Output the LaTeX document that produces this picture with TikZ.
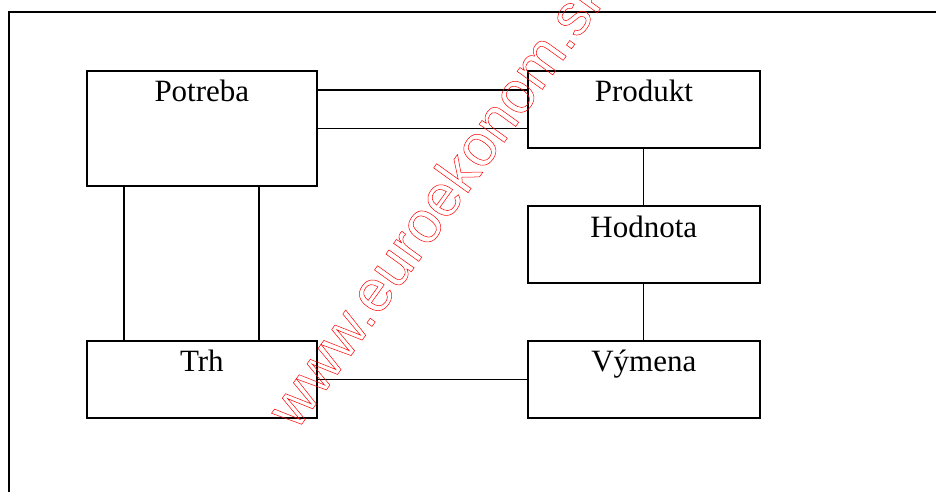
\documentclass[tikz,border=0pt]{standalone}
\usepackage{fontspec}
\setmainfont{Liberation Serif}
\newfontfamily\wmfont{Liberation Sans}
\usetikzlibrary{calc}
\begin{document}
\begin{tikzpicture}[x=1pt,y=-1pt,
  box/.style={draw, line width=1.7pt, inner sep=0pt, anchor=north west, minimum height=77pt},
  lbl/.style={anchor=base, inner sep=0pt, font=\fontsize{31}{34}\selectfont},
  conn/.style={line width=1.2pt},
  frame/.style={line width=1.6pt},
  wm/.style={inner sep=0pt, text=red, font=\wmfont\fontsize{58.6}{62}\selectfont}]
\useasboundingbox (0,0) rectangle (936,491);
% outer frame
\coordinate (fa) at (9,495);
\coordinate (fb) at (9,12);
\coordinate (fc) at (940,12);
\draw[frame] (fa) -- (fb) -- (fc);
% boxes
\node[box, minimum width=230pt, minimum height=115pt] (pot) at (86,70) {};
\node[box, minimum width=232pt] (prod) at (527,70) {};
\node[box, minimum width=232pt] (hod) at (527,205) {};
\node[box, minimum width=232pt] (vym) at (527,340) {};
\node[box, minimum width=230pt] (trh) at (86,340) {};
% labels
\node[lbl] (tpot) at ($(pot.north)+(0,31)$) {Potreba};
\node[lbl] (tprod) at ($(prod.north)+(0,31)$) {Produkt};
\node[lbl] (thod) at ($(hod.north)+(0,32)$) {Hodnota};
\node[lbl] (tvym) at ($(vym.north)+(0,31)$) {Výmena};
\node[lbl] (ttrh) at ($(trh.north)+(0,31)$) {Trh};
% connectors
\draw[conn] ($(pot.north east)+(0,20)$) -- ($(prod.north west)+(0,20)$);
\draw[conn] (pot.east) -- (prod.west |- pot.east);
\draw[conn] ($(pot.south west)+(38,0)$) -- ($(trh.north west)+(38,0)$);
\draw[conn] ($(pot.south west)+(173,0)$) -- ($(trh.north west)+(173,0)$);
\draw[conn] (prod.south) -- (hod.north);
\draw[conn] (hod.south) -- (vym.north);
\draw[conn] (trh.east) -- (vym.west);
% watermark
\node[wm, rotate=54.3, anchor=base west] (wmark) at (296.6,431.4)
  {\special{pdf:literal direct 1 Tr 0.5 w}www.euroekonom.sk\special{pdf:literal direct 0 Tr}};
\end{tikzpicture}
\end{document}
